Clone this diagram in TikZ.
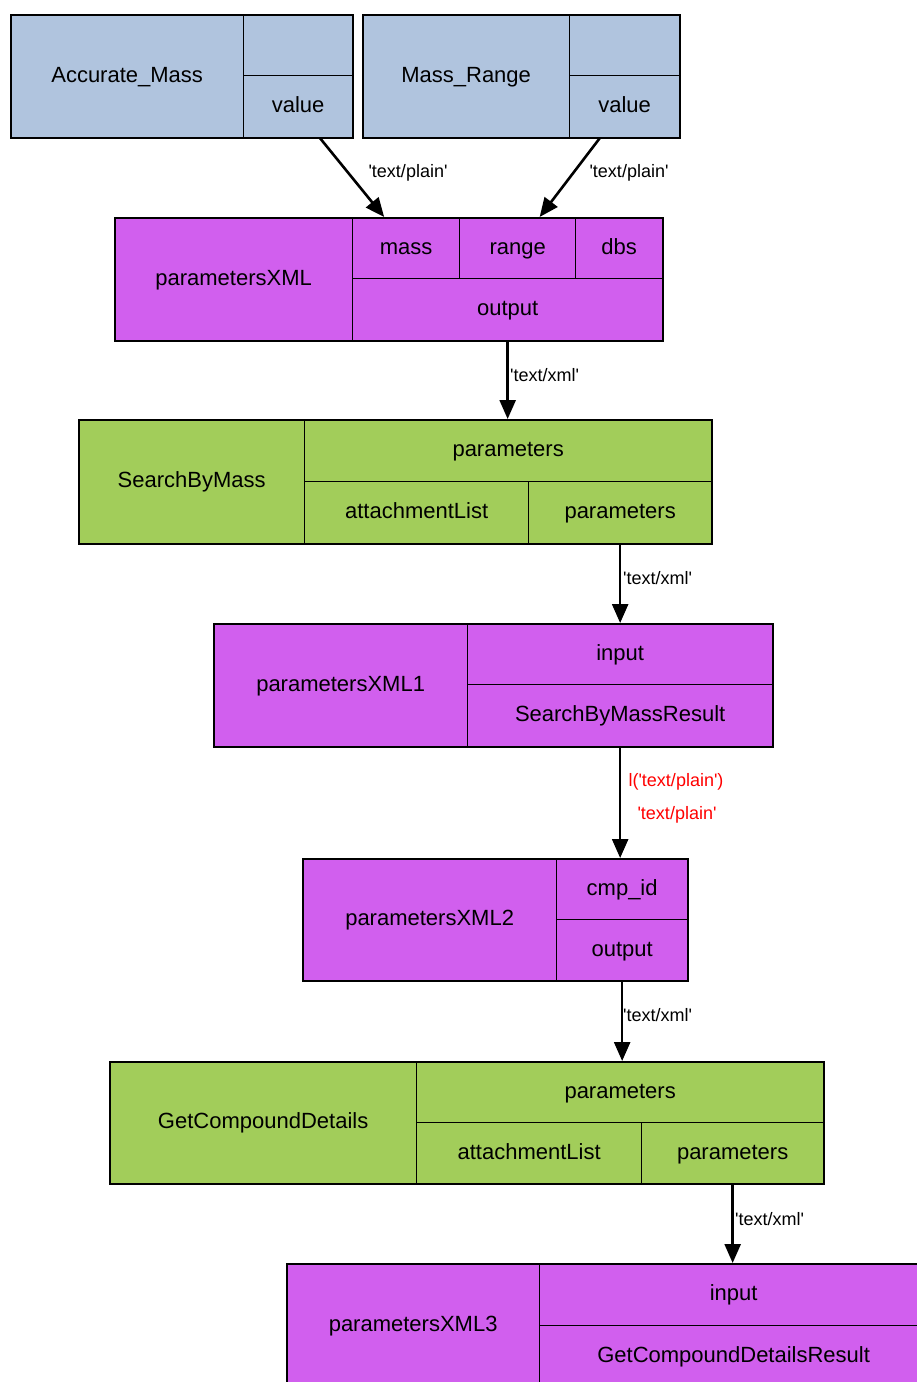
\documentclass[tikz,border=0pt]{standalone}
\usepackage{fontspec}
\setmainfont{Liberation Sans}
\usetikzlibrary{arrows.meta}
\definecolor{inblue}{HTML}{B0C4DE}
\definecolor{xmlpurple}{HTML}{D15FEE}
\definecolor{wsgreen}{HTML}{A2CD5A}
\newcommand\q{\textquotesingle}
\tikzset{
  cellbox/.style={draw=black, line width=1.3pt, inner sep=0pt, anchor=north west,
                  font=\fontsize{22}{24}\selectfont, text=black,
                  text height=16pt, text depth=4pt},
  framebox/.style={draw=black, line width=2pt, inner sep=0pt, anchor=north west},
  flow/.style={-{Triangle[length=19pt,width=16pt]}, line width=2.6pt},
  elabel/.style={font=\fontsize{18}{20}\selectfont, inner sep=0pt, text=black},
  redlabel/.style={elabel, text=red},
}
% one record cell: name, x1, y1, x2, y2, text, fill
\newcommand\reccell[7]{%
  \node[cellbox, fill=#7, minimum width={(#4-#2)*1pt}, minimum height={(#5-#3)*1pt}]
    (#1) at (#2,#3) {#6};}
% outer frame of a record: name, x1, y1, x2, y2
\newcommand\recframe[5]{%
  \node[framebox, minimum width={(#4-#2)*1pt}, minimum height={(#5-#3)*1pt}]
    (#1) at (#2,#3) {};}
\begin{document}
\begin{tikzpicture}[x=1pt, y=-1pt]
\useasboundingbox (0,0) rectangle (917,1382);
\clip (0,0) rectangle (917,1382);

% inputs
\reccell{am}{10}{14}{243}{137}{Accurate\_Mass}{inblue}
\reccell{amt}{243}{14}{352}{75}{}{inblue}
\reccell{amv}{243}{75}{352}{137}{value}{inblue}
\recframe{amf}{10}{14}{352}{137}

\reccell{mr}{362}{14}{569}{137}{Mass\_Range}{inblue}
\reccell{mrt}{569}{14}{679}{75}{}{inblue}
\reccell{mrv}{569}{75}{679}{137}{value}{inblue}
\recframe{mrf}{362}{14}{679}{137}

% parametersXML
\reccell{px}{114}{217}{352}{340}{parametersXML}{xmlpurple}
\reccell{pxm}{352}{217}{459}{278}{mass}{xmlpurple}
\reccell{pxr}{459}{217}{575}{278}{range}{xmlpurple}
\reccell{pxd}{575}{217}{662}{278}{dbs}{xmlpurple}
\reccell{pxo}{352}{278}{662}{340}{output}{xmlpurple}
\recframe{pxf}{114}{217}{662}{340}

% SearchByMass
\reccell{sb}{78}{419}{304}{543}{SearchByMass}{wsgreen}
\reccell{sbp}{304}{419}{711}{481}{parameters}{wsgreen}
\reccell{sba}{304}{481}{528}{543}{attachmentList}{wsgreen}
\reccell{sbo}{528}{481}{711}{543}{parameters}{wsgreen}
\recframe{sbf}{78}{419}{711}{543}

% parametersXML1
\reccell{pa}{213}{623}{467}{746}{parametersXML1}{xmlpurple}
\reccell{pai}{467}{623}{772}{684}{input}{xmlpurple}
\reccell{pao}{467}{684}{772}{746}{SearchByMassResult}{xmlpurple}
\recframe{paf}{213}{623}{772}{746}

% parametersXML2
\reccell{pb}{302}{858}{556}{980}{parametersXML2}{xmlpurple}
\reccell{pbi}{556}{858}{687}{919}{cmp\_id}{xmlpurple}
\reccell{pbo}{556}{919}{687}{980}{output}{xmlpurple}
\recframe{pbf}{302}{858}{687}{980}

% GetCompoundDetails
\reccell{gc}{109}{1061}{416}{1183}{GetCompoundDetails}{wsgreen}
\reccell{gcp}{416}{1061}{823}{1122}{parameters}{wsgreen}
\reccell{gca}{416}{1122}{641}{1183}{attachmentList}{wsgreen}
\reccell{gco}{641}{1122}{823}{1183}{parameters}{wsgreen}
\recframe{gcf}{109}{1061}{823}{1183}

% parametersXML3
\reccell{pc}{286}{1263}{539}{1386}{parametersXML3}{xmlpurple}
\reccell{pci}{539}{1263}{927}{1325}{input}{xmlpurple}
\reccell{pco}{539}{1325}{927}{1386}{GetCompoundDetailsResult}{xmlpurple}
\recframe{pcf}{286}{1263}{927}{1386}

% data links
\draw[flow] ([xshift=22pt]amv.south) -- ([xshift=-22pt]pxm.north);
\draw[flow] ([xshift=-25pt]mrv.south) -- ([xshift=22pt]pxr.north);
\draw[flow] (pxo.south) -- (pxo.south |- sbp.north);
\draw[flow] (sbo.south) -- (sbo.south |- pai.north);
\draw[flow] (pao.south) -- (pao.south |- pbi.north);
\draw[flow] (pbo.south) -- (pbo.south |- gcp.north);
\draw[flow] (gco.south) -- (gco.south |- pci.north);

% link labels
\node[elabel] (l1) at (408,173) {\q text/plain\q};
\node[elabel] (l2) at (629,173) {\q text/plain\q};
\node[elabel, anchor=west] (l3) at (510,375) {\q text/xml\q};
\node[elabel, anchor=west] (l4) at (623,578) {\q text/xml\q};
\node[redlabel] (l5) at (676,782) {l(\q text/plain\q)};
\node[redlabel] (l6) at (677,815) {\q text/plain\q};
\node[elabel, anchor=west] (l7) at (623,1015) {\q text/xml\q};
\node[elabel, anchor=west] (l8) at (735,1219) {\q text/xml\q};
\end{tikzpicture}
\end{document}
